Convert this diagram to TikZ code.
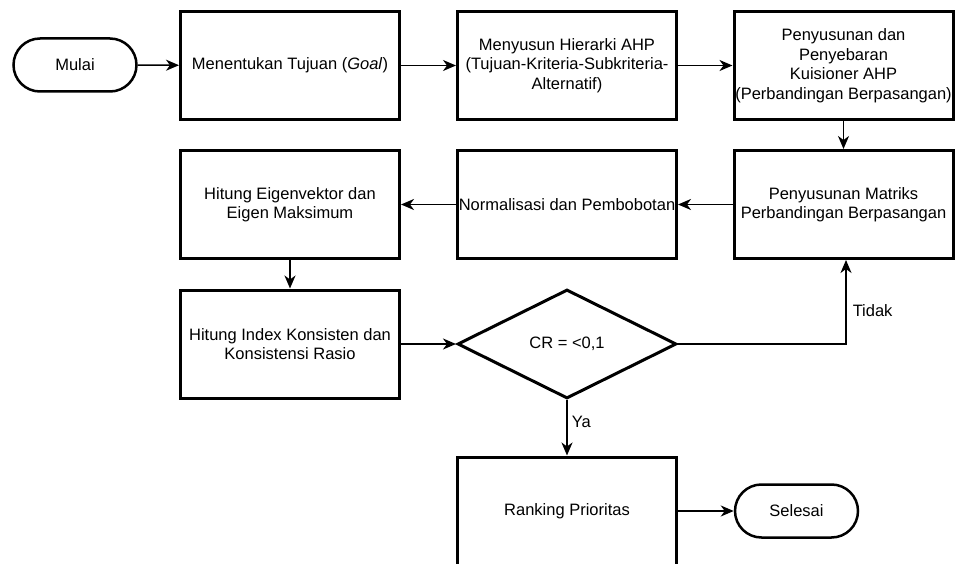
\documentclass[tikz,border=0pt]{standalone}
\usepackage{fontspec}
\setmainfont{Liberation Sans}
\usetikzlibrary{arrows.meta,shapes.geometric,shapes.misc}
\begin{document}
\begin{tikzpicture}[x=1pt,y=-1pt,
  font=\fontsize{16.5}{19.5}\selectfont,
  box/.style={draw,line width=3pt,minimum width=219pt,minimum height=108pt,inner sep=0pt,align=center},
  term/.style={draw,rounded rectangle,line width=2.5pt,minimum width=123pt,minimum height=53pt,inner sep=0pt},
  cond/.style={draw,diamond,line width=3pt,minimum width=219pt,minimum height=109pt,inner sep=0pt},
  arr/.style={line width=1.5pt,-{Stealth[length=13pt,width=11pt,inset=4pt]}}]
\useasboundingbox (0,0) rectangle (956,564);
\node[term] (mulai) at (75,65) {Mulai};
\node[box] (tujuan) at (290,65.5) {Menentukan Tujuan (\textit{Goal})};
\node[box] (hierarki) at (567,65.5) {Menyusun Hierarki AHP\\(Tujuan-Kriteria-Subkriteria-\\Alternatif)};
\node[box] (kuisioner) at (843.5,65.5) {Penyusunan dan\\Penyebaran\\Kuisioner AHP\\(Perbandingan Berpasangan)};
\node[box] (matriks) at (843.5,204.5) {Penyusunan Matriks\\Perbandingan Berpasangan};
\node[box] (normal) at (567,204.5) {Normalisasi dan Pembobotan};
\node[box] (eigen) at (290,204.5) {Hitung Eigenvektor dan\\Eigen Maksimum};
\node[box] (index) at (290,344) {Hitung Index Konsisten dan\\Konsistensi Rasio};
\node[cond] (cr) at (567,344) {CR = <0,1};
\node[box] (ranking) at (567,511) {Ranking Prioritas};
\node[term] (selesai) at (796.5,511) {Selesai};
\draw[arr] (mulai) -- (tujuan);
\draw[arr] (tujuan) -- (hierarki);
\draw[arr] (hierarki) -- (kuisioner);
\draw[arr] (kuisioner) -- (matriks);
\draw[arr] (matriks) -- (normal);
\draw[arr] (normal) -- (eigen);
\draw[arr] (eigen) -- (index);
\draw[arr] (index) -- (cr);
\draw[arr] (cr.east) -| node[pos=0.7,right,inner sep=6pt] {Tidak} ([xshift=2.5pt]matriks.south);
\draw[arr] (cr.south) -- node[pos=0.4,right,inner sep=4pt] {Ya} (ranking.north);
\draw[arr] (ranking) -- (selesai);
\end{tikzpicture}
\end{document}
